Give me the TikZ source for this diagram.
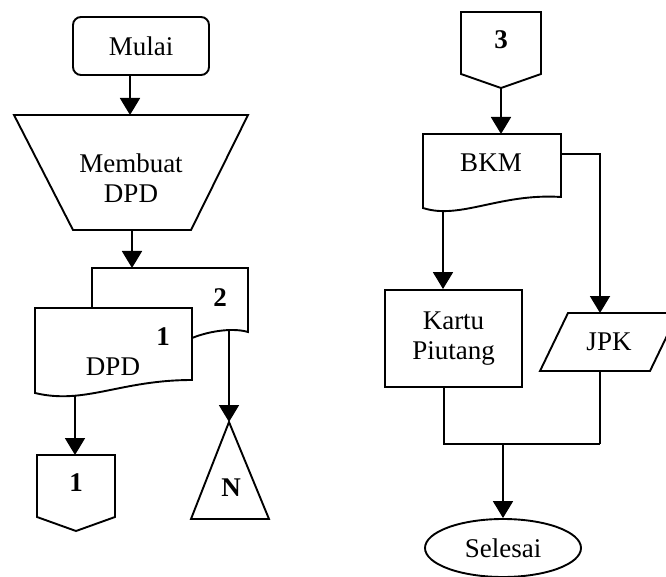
\documentclass[tikz,border=0pt]{standalone}
\usepackage{fontspec}
\setmainfont{Liberation Serif}
\usetikzlibrary{arrows.meta,shapes.geometric}
\begin{document}
\begin{tikzpicture}[x=1pt,y=-1pt,
  line width=1.9pt, line join=miter,
  lbl/.style={font=\fontsize{27}{30}\selectfont, inner sep=0pt, align=center},
  num/.style={font=\fontsize{27}{30}\selectfont\bfseries, inner sep=0pt},
  arr/.style={-{Triangle[length=17pt,width=20pt]}}]
\clip (0,0) rectangle (666,577);
\useasboundingbox (0,0) rectangle (666,577);

% ---------- left column ----------
\node[draw, rounded corners=8pt, minimum width=136pt, minimum height=58pt, lbl] (mulai) at (141,46) {Mulai};
\coordinate (procTop) at (130,115);
\draw[arr] (mulai.south -| procTop) -- (procTop);

\draw (14,115) -- (248,115) -- (191,230) -- (73,230) -- cycle;
\node[lbl] (proc) at (131,178) {Membuat\\DPD};

\coordinate (procBot) at (132,230);
\coordinate (docTwoTop) at (132,268);
\draw[arr] (procBot) -- (docTwoTop);

% document copy 2 (behind)
\draw (92,308) -- (92,268) -- (248,268) -- (248,332) .. controls (235,328) and (212,330) .. (192,338);
\node[num] (n2) at (220,298) {2};

% document copy 1 (front)
\draw (35,308) -- (192,308) -- (192,380) .. controls (120,380) and (85,405) .. (35,393) -- cycle;
\node[num] (n1) at (163,337) {1};
\node[lbl] (dpd) at (113,367) {DPD};

\coordinate (docOneBot) at (75,396);
\coordinate (conOneTop) at (75,455);
\draw[arr] (docOneBot) -- (conOneTop);

% off-page connector 1
\draw (37,455) -- (115,455) -- (115,517) -- (76,531) -- (37,517) -- cycle;
\node[num] (c1) at (76,483) {1};

% triangle N
\coordinate (docTwoBot) at (229,329);
\coordinate (triTop) at (229,422);
\draw[arr] (docTwoBot) -- (triTop);
\draw (229,422) -- (269,519) -- (191,519) -- cycle;
\node[num] (nN) at (231,488) {N};

% ---------- right column ----------
\draw (461,12) -- (541,12) -- (541,74) -- (501,88) -- (461,74) -- cycle;
\node[num] (c3) at (501,40) {3};

\coordinate (conThreeBot) at (501,88);
\coordinate (bkmTop) at (501,134);
\draw[arr] (conThreeBot) -- (bkmTop);

\draw (423,208) -- (423,134) -- (561,134) -- (561,197) .. controls (500,193) and (460,220) .. cycle;
\node[lbl] (bkm) at (491,163) {BKM};

\coordinate (bkmRight) at (561,154);
\coordinate (jpkTop) at (600,313);
\draw[arr] (bkmRight) -| (jpkTop);

\coordinate (bkmBot) at (443,211);
\node[draw, minimum width=137pt, minimum height=97pt, lbl] (kartu) at (453.5,338.5) {Kartu\\Piutang};
\draw[arr] (bkmBot) -- (bkmBot |- kartu.north);

\draw (568,313) -- (678,313) -- (650,371) -- (540,371) -- cycle;
\node[lbl] (jpk) at (609,342) {JPK};

\coordinate (join) at (503,444);
\coordinate (jpkBot) at (600,371);
\draw (kartu.south -| 444,0) -- (444,444) -- (600,444);
\draw (jpkBot) -- (600,444);

\node[draw, ellipse, minimum width=156pt, minimum height=58pt, inner sep=0pt, lbl] (selesai) at (503,548) {Selesai};
\draw[arr] (join) -- (selesai.north);
\end{tikzpicture}
\end{document}
